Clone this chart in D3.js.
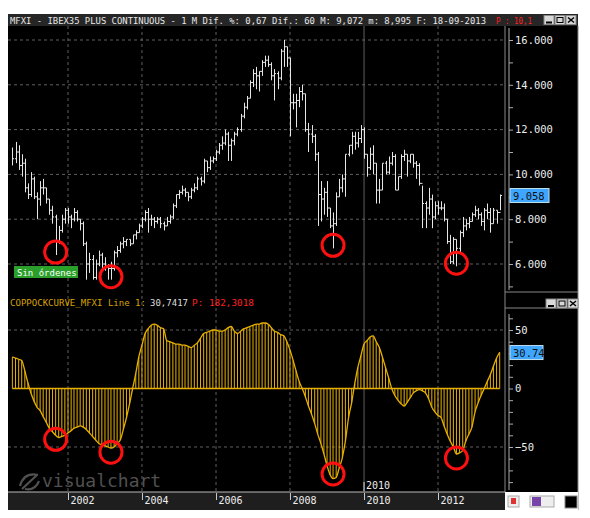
<!DOCTYPE html>
<html>
<head>
<meta charset="utf-8">
<script src="https://cdn.jsdelivr.net/npm/d3@7"></script>
<style>
  body { margin: 0; background: #fff; }
  svg text { font-family: "DejaVu Sans Mono", monospace; }
</style>
</head>
<body>
<div id="chart"></div>
<script>
// monthly bars, Jul 2000 .. Sep 2013
const startMonth = [2000, 6];
const closes = [
  10700,11000,10400,10500,9400,9100,
  9800,9000,8900,9400,9400,8900,8400,8100,7000,7500,8000,8400,
  8100,8000,8300,8000,7800,6900,6000,6200,5400,6000,6400,6000,
  5900,5800,5800,6500,6600,6900,7000,7100,6900,7300,7400,7700,
  8000,8300,8000,8000,7900,8000,7800,7700,7900,8100,8600,9100,
  9200,9300,9200,9000,9300,9400,9800,9700,10600,10300,10600,10700,
  11000,11300,11400,11800,11300,11500,11800,12000,12600,13000,13400,14100,
  14500,14400,14600,15000,15100,14900,14400,14500,14300,15500,15700,15200,
  13200,13200,13300,13700,13600,12000,11800,11700,10900,9100,8900,9200,
  8500,7700,7800,9000,9400,9800,10900,11300,11700,11400,11600,12000,
  10900,10300,10900,10500,9300,9300,10500,10100,10500,10800,9300,9900,
  10800,10900,10600,10900,10500,10400,9600,8700,8500,8900,8100,8600,
  8500,8500,8000,7000,6100,7100,6700,7400,7700,7800,7900,8200,
  8400,8200,7900,8400,8300,7800,8400,8300,9058
];
const highs = [
  11200,11450,11300,10900,10700,9600,
  10100,9900,9200,9700,9800,9400,8900,8600,8200,7700,8200,8500,
  8500,8200,8500,8400,8000,7900,7000,6500,6400,6200,6600,6500,
  6300,6000,6100,6600,6800,7000,7200,7100,7100,7300,7500,7800,
  8100,8400,8500,8200,8100,8100,8100,7900,8100,8200,8700,9100,
  9300,9500,9400,9200,9400,9600,9900,9900,10700,10600,10800,10800,
  11100,11400,11700,12000,11900,11600,11900,12100,12700,13200,13500,14200,
  14700,14800,14600,15100,15300,15300,15000,14700,14600,15600,16000,15700,
  15200,13600,13600,13900,14000,13600,12300,12200,11800,11000,9700,9400,
  9700,8500,8300,9200,9800,10000,10900,11300,11900,11900,11900,12200,
  12100,10900,11200,11300,10500,9800,10500,10600,10800,11000,10900,9900,
  10900,11100,10900,10900,10900,10600,10500,9500,8800,9400,9100,8800,
  8800,8800,8700,8000,7300,7200,7100,7500,8100,8000,8100,8300,
  8600,8500,8300,8500,8700,8500,8500,8400,9100
];
const lows = [
  10400,10500,10200,9900,9200,8900,
  9000,8900,8000,8600,9100,8700,8200,7800,6400,6900,7400,7800,
  7800,7600,7900,7900,7500,6800,5300,5600,5300,5300,5900,5800,
  5700,5300,5300,5700,6300,6500,6700,6800,6800,6900,7100,7400,
  7600,7900,7400,7700,7600,7800,7600,7500,7700,7800,8000,8500,
  8900,9100,9000,8800,8900,9200,9300,9500,9600,10100,10200,10500,
  10600,10900,11100,11300,10600,10600,11300,11700,11900,12500,12900,13400,
  13900,13800,13700,14400,14800,14800,14200,13300,13800,14200,14800,14800,
  11700,12900,12100,13000,13300,11900,11000,11400,10600,7700,7900,8200,
  8100,7600,6700,7700,9000,9200,9000,10800,10900,11100,11200,11400,
  10700,9900,10200,10000,8700,8700,9300,10000,10000,10400,9300,9300,
  9800,10600,9900,10500,10300,9800,9500,7600,7600,8200,7600,8000,
  8200,8400,7900,6900,6000,6000,5900,6500,7200,7500,7600,7900,
  8100,8000,7700,7500,8000,7400,7800,7800,8400
];
const coppock = [
  27,26,25,24,15,5,-4,-11,-16,-19,
  -24,-29,-34,-37,-40,-42,-41,-40,-38,-36,
  -34,-33,-32,-33,-35,-38,-41,-44,-47,-48,
  -49,-50,-51,-50,-47,-44,-35,-25,-13,0,
  13,27,37,47,51,54,55,54,52,51,
  41,40,39,38,38,37,37,36,35,37,
  39,43,47,48,49,50,50,49,49,50,
  52,53,49,47,49,51,52,53,54,55,
  55,56,56,55,52,49,48,46,45,40,
  33,24,15,6,0,-7,-15,-22,-30,-39,
  -47,-56,-66,-74,-77,-76,-68,-59,-45,-25,
  -12,4,18,28,38,41,44,45,40,35,
  27,18,9,0,-6,-10,-13,-15,-12,-8,
  -4,-2,-1,-2,-4,-9,-16,-20,-23,-25,
  -32,-39,-45,-50,-56,-55,-53,-45,-39,-33,
  -20,-12,-6,0,6,12,19,26,31
];
const priceTicks = [6000, 8000, 10000, 12000, 14000, 16000];
const coppockTicks = [-50, 0, 50];
const yearTicks = [2002, 2004, 2006, 2008, 2010, 2012];
const lowCircles = [14, 32, 104, 144]; // month index of circled lows

const W = 590, H = 518;
const L = 8, R = 505, RA = 578;
const pTop = 26, pBot = 296, cTop = 310, cBot = 492, aBot = 510;

const months = closes.map((c, i) => new Date(startMonth[0], startMonth[1] + i, 1));

const x = d3.scaleTime()
  .domain([new Date(2002, 0, 1), new Date(2012, 0, 1)])
  .range([68, 438]);
const yP = d3.scaleLinear().domain([6000, 16000]).range([264, 40]);
const yC = d3.scaleLinear().domain([-50, 50]).range([447, 330]);

const svg = d3.select('#chart').append('svg')
  .attr('width', W).attr('height', H);

svg.append('rect').attr('x', L).attr('y', 14).attr('width', RA - L).attr('height', aBot - 14).attr('fill', '#000');

// title bar
svg.append('rect').attr('x', L).attr('y', 14).attr('width', RA - L).attr('height', 12).attr('fill', '#262626');
svg.append('text').attr('x', 10).attr('y', 24).attr('font-size', 8.6).attr('fill', '#e8e8e8')
  .attr('textLength', 476).attr('lengthAdjust', 'spacingAndGlyphs')
  .text('MFXI - IBEX35 PLUS CONTINUOUS -  1 M Dif. %: 0,67 Dif.: 60 M: 9,072 m: 8,995 F: 18-09-2013');
svg.append('text').attr('x', 496).attr('y', 24).attr('font-size', 8.6).attr('fill', '#ff2020')
  .attr('textLength', 36).attr('lengthAdjust', 'spacingAndGlyphs').text('P : 10,1');

function winButtons(x0, y0) {
  [0, 1, 2].forEach(k => {
    svg.append('rect').attr('x', x0 + k * 11).attr('y', y0).attr('width', 10).attr('height', 9)
      .attr('fill', '#d8d8d8').attr('stroke', '#888');
  });
  svg.append('rect').attr('x', x0 + 2).attr('y', y0 + 6).attr('width', 6).attr('height', 2).attr('fill', '#000');
  svg.append('rect').attr('x', x0 + 13).attr('y', y0 + 2).attr('width', 6).attr('height', 5).attr('fill', 'none').attr('stroke', '#000');
  svg.append('path').attr('d', `M${x0 + 24},${y0 + 2}l6,5M${x0 + 30},${y0 + 2}l-6,5`).attr('stroke', '#000').attr('stroke-width', 1.5);
}
winButtons(544, 15.5);

// right axis panels
svg.append('line').attr('x1', R).attr('x2', R).attr('y1', pTop).attr('y2', aBot).attr('stroke', '#888');
svg.append('line').attr('x1', R).attr('x2', RA).attr('y1', pBot - 4).attr('y2', pBot - 4).attr('stroke', '#888');
svg.append('line').attr('x1', R).attr('x2', RA).attr('y1', cTop - 2).attr('y2', cTop - 2).attr('stroke', '#888');
svg.append('line').attr('x1', RA).attr('x2', RA).attr('y1', pTop).attr('y2', aBot).attr('stroke', '#888');

// grid
const grid = svg.append('g').attr('stroke', '#777').attr('stroke-width', 0.8);
priceTicks.forEach(v => grid.append('line').attr('x1', L).attr('x2', R).attr('y1', yP(v)).attr('y2', yP(v)).attr('stroke-dasharray', '3,3'));
[-50, 50].forEach(v => grid.append('line').attr('x1', L).attr('x2', R).attr('y1', yC(v)).attr('y2', yC(v)).attr('stroke-dasharray', '3,3'));
yearTicks.forEach(yr => {
  const xx = x(new Date(yr, 0, 1));
  grid.append('line').attr('x1', xx).attr('x2', xx).attr('y1', pTop).attr('y2', cBot)
    .attr('stroke-dasharray', yr === 2010 ? null : '3,3');
});

// price axis
const pAxis = d3.axisRight(yP).tickValues(d3.range(5000, 16001, 1000)).tickSize(4)
  .tickFormat(d => priceTicks.includes(d) ? d3.format(',')(d).replace(',', '.') : '');
const gp = svg.append('g').attr('transform', `translate(${R + 4},0)`).call(pAxis);
gp.select('.domain').attr('stroke', '#aaa').attr('d', `M0,${pTop + 2}V${pBot - 6}`);
gp.selectAll('line').attr('stroke', '#aaa');
gp.selectAll('text').attr('fill', '#eee').attr('font-size', 10.5).attr('font-family', 'Liberation Sans, sans-serif').attr('x', 6);

const cAxis = d3.axisRight(yC).tickValues(d3.range(-80, 61, 10)).tickSize(4)
  .tickFormat(d => coppockTicks.includes(d) ? (d < 0 ? '\u221250' : d) : '');
const gc = svg.append('g').attr('transform', `translate(${R + 4},0)`).call(cAxis);
gc.select('.domain').attr('stroke', '#aaa').attr('d', `M0,${cTop + 4}V${cBot - 2}`);
gc.selectAll('line').attr('stroke', '#aaa');
gc.selectAll('text').attr('fill', '#eee').attr('font-size', 10.5).attr('font-family', 'Liberation Sans, sans-serif').attr('x', 6);

// price bars
const bars = svg.append('g').attr('stroke', '#e6e6e6').attr('stroke-width', 1);
months.forEach((m, i) => {
  const xx = Math.round(x(m)) + 0.5;
  bars.append('line').attr('x1', xx).attr('x2', xx).attr('y1', yP(highs[i])).attr('y2', yP(lows[i]));
  bars.append('line').attr('x1', xx).attr('x2', xx + 1.5).attr('y1', yP(closes[i])).attr('y2', yP(closes[i]));
  if (i > 0) bars.append('line').attr('x1', xx - 1.5).attr('x2', xx).attr('y1', yP(closes[i - 1])).attr('y2', yP(closes[i - 1]));
});

// last price label
const last = closes[closes.length - 1];
svg.append('rect').attr('x', R + 5).attr('y', yP(last) - 7).attr('width', 39).attr('height', 14).attr('fill', '#3ea6ff').attr('stroke', '#bde');
svg.append('text').attr('x', R + 8).attr('y', yP(last) + 4).attr('font-size', 10.5).attr('font-family', 'Liberation Sans, sans-serif')
  .attr('fill', '#111').text(d3.format(',')(last).replace(',', '.'));

// Sin ordenes
svg.append('rect').attr('x', 14).attr('y', 266).attr('width', 64).attr('height', 12).attr('fill', '#2aa02a');
svg.append('text').attr('x', 17).attr('y', 275.5).attr('font-size', 9).attr('fill', '#fff').text('Sin órdenes');

// coppock panel header
svg.append('text').attr('x', 10).attr('y', 306).attr('font-size', 9.5).attr('fill', '#d8a400')
  .attr('textLength', 136).attr('lengthAdjust', 'spacingAndGlyphs').text('COPPOCKCURVE_MFXI Line 1:');
svg.append('text').attr('x', 150).attr('y', 306).attr('font-size', 9.5).attr('fill', '#ddd')
  .attr('textLength', 38).attr('lengthAdjust', 'spacingAndGlyphs').text('30,7417');
svg.append('text').attr('x', 192).attr('y', 306).attr('font-size', 9.5).attr('fill', '#ff2020')
  .attr('textLength', 62).attr('lengthAdjust', 'spacingAndGlyphs').text('P: 182,3018');
winButtons(546, 299);

// coppock histogram + curve
const gold = '#e8b000';
svg.append('g').selectAll('line').data(coppock).join('line')
  .attr('x1', (d, i) => x(months[i])).attr('x2', (d, i) => x(months[i]))
  .attr('y1', yC(0)).attr('y2', d => yC(d)).attr('stroke', gold).attr('stroke-width', 1);
svg.append('line').attr('x1', x(months[0])).attr('x2', x(months[coppock.length - 1]))
  .attr('y1', yC(0)).attr('y2', yC(0)).attr('stroke', gold).attr('stroke-width', 1.5);
svg.append('path').datum(coppock)
  .attr('d', d3.line().x((d, i) => x(months[i])).y(d => yC(d)).curve(d3.curveMonotoneX))
  .attr('fill', 'none').attr('stroke', gold).attr('stroke-width', 1.3);

svg.append('rect').attr('x', R + 5).attr('y', yC(30.74) - 7).attr('width', 33).attr('height', 14).attr('fill', '#3ea6ff').attr('stroke', '#bde');
svg.append('text').attr('x', R + 8).attr('y', yC(30.74) + 4).attr('font-size', 10.5).attr('font-family', 'Liberation Sans, sans-serif')
  .attr('fill', '#111').text('30.74');

// red circles
const circ = svg.append('g').attr('fill', 'none').attr('stroke', '#ff1010').attr('stroke-width', 3);
lowCircles.forEach(i => {
  circ.append('circle').attr('cx', x(months[i])).attr('cy', yP(lows[i]) - 3).attr('r', 11);
  circ.append('circle').attr('cx', x(months[i])).attr('cy', Math.min(yC(coppock[i]) + 4, 474)).attr('r', 11);
});

// watermark
svg.append('text').attr('x', 42).attr('y', 487).attr('font-size', 18).attr('font-family', 'Liberation Sans, sans-serif')
  .attr('fill', '#505050').text('visualchart');
svg.append('path').attr('d', 'M20,486 q4,-14 18,-11 M22,489 l15,-14 M25,489 q10,2 14,-8')
  .attr('fill', 'none').attr('stroke', '#505050').attr('stroke-width', 2.2);

// 2010 marker inside panel
const x2010 = x(new Date(2010, 0, 1));
svg.append('line').attr('x1', x2010).attr('x2', x2010).attr('y1', 482).attr('y2', 491).attr('stroke', '#ddd');
svg.append('text').attr('x', x2010 + 2).attr('y', 489).attr('font-size', 10).attr('fill', '#eee').text('2010');

// date axis
svg.append('rect').attr('x', L).attr('y', cBot).attr('width', R - L).attr('height', aBot - cBot).attr('fill', '#1e1e1e');
svg.append('line').attr('x1', L).attr('x2', R).attr('y1', cBot).attr('y2', cBot).attr('stroke', '#bbb');
const xAxis = d3.axisBottom(x).tickValues(yearTicks.map(y => new Date(y, 0, 1))).tickSize(7).tickFormat(d3.timeFormat('%Y'));
const gx = svg.append('g').attr('transform', `translate(0,${cBot + 1})`).call(xAxis);
gx.select('.domain').remove();
gx.selectAll('line').attr('stroke', '#ccc');
gx.selectAll('text').attr('fill', '#eee').attr('font-size', 10).attr('text-anchor', 'start').attr('x', 2).attr('y', 4).attr('dy', '0.71em');

// bottom right icons
svg.append('rect').attr('x', R).attr('y', cBot).attr('width', RA - R).attr('height', aBot - cBot).attr('fill', '#fff');
svg.append('rect').attr('x', 508).attr('y', 496).attr('width', 11).attr('height', 11).attr('fill', '#eee').attr('stroke', '#aaa');
svg.append('rect').attr('x', 511).attr('y', 498).attr('width', 5).attr('height', 6).attr('fill', '#d33');
svg.append('rect').attr('x', 530).attr('y', 496).attr('width', 24).attr('height', 11).attr('fill', '#eee').attr('stroke', '#aaa');
svg.append('rect').attr('x', 532).attr('y', 497).attr('width', 9).attr('height', 9).attr('fill', '#74a');
svg.append('rect').attr('x', 565).attr('y', 496).attr('width', 12).attr('height', 12).attr('fill', '#000').attr('stroke', '#888');
</script>
</body>
</html>
